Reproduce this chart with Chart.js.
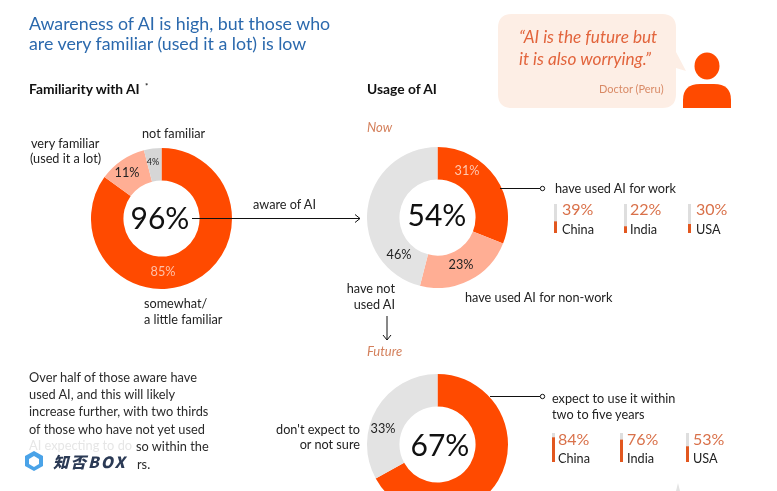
<!DOCTYPE html>
<html>
<head>
<meta charset="utf-8">
<script src="https://cdn.jsdelivr.net/npm/chart.js@4/dist/chart.umd.min.js"></script>
<style>
html, body { margin: 0; padding: 0; background: #fff; }
#page { position: relative; width: 777px; height: 491px; overflow: hidden; font-family: Lato, "Open Sans", sans-serif; color: #222; }
.t { position: absolute; white-space: nowrap; transform: translateY(-50%); font-size: 12.7px; line-height: 1; }
.r { transform: translate(-100%, -50%); }
.c { transform: translate(-50%, -50%); }
.head { font-weight: 700; font-size: 13.8px; color: #111; }
.title { font-size: 17.8px; color: #2b69ad; }
.quote { font-size: 17.2px; font-style: italic; color: #e2643c; }
.when { font-style: italic; font-size: 13px; color: #d4805c; }
.big { font-size: 30px; color: #111; }
.pct { font-size: 16px; color: #d9714a; }
.body { font-size: 12.8px; color: #2a2a2a; }
canvas { position: absolute; }
svg { position: absolute; left: 0; top: 0; }
</style>
</head>
<body>
<div id="page">
  <svg width="777" height="491">
    <path d="M512 14 H662 Q676 14 676 28 V52 L686 71 L676 68 V94 Q676 108 662 108 H512 Q498 108 498 94 V28 Q498 14 512 14 Z" fill="#fdeee5"/>
    <ellipse cx="707" cy="66" rx="12.5" ry="13.5" fill="#ff4a00"/>
    <path d="M683 108 V100 Q683 84 700 84 H714 Q731 84 731 100 V108 Z" fill="#ff4a00"/>
    <path d="M676 491 L678 483 L680 491 Z" fill="#e3e3e3"/>
  </svg>
  <canvas id="familiarityChart" style="left:91px;top:148px"></canvas>
  <canvas id="nowChart" style="left:367px;top:147px"></canvas>
  <canvas id="futureChart" style="left:367px;top:374px"></canvas>
  <svg width="777" height="491" fill="none" stroke="#111" stroke-width="1">
    <path d="M192 218.5 H360 M355 214.5 L360 218.5 L355 222.5"/>
    <path d="M500 188.5 H540"/><circle cx="542.5" cy="188.5" r="2.2"/>
    <path d="M490 396.5 H540"/><circle cx="542.5" cy="396.5" r="2.2"/>
    <path d="M387 316 V340 M383 335 L387 340 L391 335"/>
  </svg>
  <div id="labels"></div>
</div>
<script>
const familiarityLabels = ['somewhat/a little familiar', 'very familiar', 'not familiar'];
const familiarityValues = [85, 11, 4];
const nowLabels = ['have used AI for work', 'have used AI for non-work', 'have not used AI'];
const nowValues = [31, 23, 46];
const futureLabels = ['expect to use it within two to five years', "don't expect to or not sure"];
const futureValues = [67, 33];
const countries = ['China', 'India', 'USA'];
const workByCountry = [39, 22, 30];
const futureByCountry = [84, 76, 53];

const ORANGE = '#ff4a00';
const SALMON = '#ffae94';
const GREY = '#e3e3e3';

function makeDonut(id, labels, values, colors) {
    const el = document.getElementById(id);
    el.width = 141;
    el.height = 141;
    return new Chart(el.getContext('2d'), {
        type: 'doughnut',
        data: { labels: labels, datasets: [{ data: values, backgroundColor: colors, borderWidth: 0 }] },
        options: {
            responsive: false,
            animation: false,
            cutout: '54%',
            layout: { padding: 0 },
            plugins: { legend: { display: false }, tooltip: { enabled: false } }
        }
    });
}

function makeMiniBar(name, value, x, y) {
    const el = document.createElement('canvas');
    el.width = 3;
    el.height = 29;
    el.style.left = x + 'px';
    el.style.top = y + 'px';
    document.getElementById('page').appendChild(el);
    return new Chart(el.getContext('2d'), {
        type: 'bar',
        data: {
            labels: [name],
            datasets: [
                { data: [value], backgroundColor: '#e2571f', barPercentage: 1, categoryPercentage: 1 },
                { data: [100 - value], backgroundColor: '#dedede', barPercentage: 1, categoryPercentage: 1 }
            ]
        },
        options: {
            responsive: false,
            animation: false,
            layout: { padding: 0 },
            scales: {
                x: { display: false, stacked: true },
                y: { display: false, stacked: true, min: 0, max: 100 }
            },
            plugins: { legend: { display: false }, tooltip: { enabled: false } }
        }
    });
}

function text(str, x, y, cls, extra) {
    const d = document.createElement('div');
    d.className = 't ' + (cls || '');
    d.textContent = str;
    d.style.left = x + 'px';
    d.style.top = (y - 0.5) + 'px';
    if (extra) d.style.cssText += extra;
    document.getElementById('labels').appendChild(d);
}

makeDonut('familiarityChart', familiarityLabels, familiarityValues, [ORANGE, SALMON, '#d6d6d6']);
makeDonut('nowChart', nowLabels, nowValues, [ORANGE, SALMON, GREY]);
makeDonut('futureChart', futureLabels, futureValues, [ORANGE, GREY]);

// headings
text('Awareness of AI is high, but those who', 29, 24, 'title');
text('are very familiar (used it a lot) is low', 29, 44, 'title');
text('Familiarity with AI', 29, 89, 'head');
text('*', 145, 86, '', 'font-size:8px;font-weight:700');
text('Usage of AI', 367, 89, 'head');
text('Now', 367, 127, 'when');
text('Future', 367, 351, 'when');

// quote
text('“AI is the future but', 519, 37, 'quote');
text('it is also worrying.”', 519, 59, 'quote');
text('Doctor (Peru)', 599, 88, '', 'font-size:11px;color:#d98a66');

// first donut
text('not familiar', 142, 133);
text('very familiar', 31, 143);
text('(used it a lot)', 30, 158);
text(familiarityValues[1] + '%', 127, 172, 'c');
text(familiarityValues[2] + '%', 153, 161, 'c', 'font-size:9px');
text(familiarityValues[0] + '%', 163, 271, 'c', 'color:#ffc0a8');
text('96%', 160, 217, 'c big');
text('aware of AI', 253, 204);
text('somewhat/', 144, 303);
text('a little familiar', 144, 319);

// now donut
text(nowValues[0] + '%', 467, 170, 'c', 'color:#ffc8b0');
text(nowValues[1] + '%', 461, 264, 'c');
text(nowValues[2] + '%', 399, 254, 'c');
text('54%', 437, 214, 'c big');
text('have used AI for work', 555, 188);
text('have used AI for non-work', 465, 297);
text('have not', 395, 288, 'r');
text('used AI', 395, 304, 'r');

// future donut
text(futureValues[1] + '%', 383, 428, 'c');
text(futureValues[0] + '%', 440, 444, 'c big');
text("don't expect to", 360, 429, 'r');
text('or not sure', 360, 444, 'r');
text('expect to use it within', 552, 398);
text('two to five years', 552, 414);

// country bars
const workBarX = [554, 624, 688];
const workPctX = [562, 630, 696];
const futureBarX = [552, 620, 686];
const futurePctX = [558, 627, 693];
countries.forEach((name, i) => {
    makeMiniBar(name, workByCountry[i], workBarX[i], 204);
    text(workByCountry[i] + '%', workPctX[i], 209, 'pct');
    text(name, workPctX[i], 229);
    makeMiniBar(name, futureByCountry[i], futureBarX[i], 433);
    text(futureByCountry[i] + '%', futurePctX[i], 439, 'pct');
    text(name, futurePctX[i], 458);
});

// paragraph, the last lines are partly covered by the watermark in the original
['Over half of those aware have', 'used AI, and this will likely', 'increase further, with two thirds',
 'of those who have not yet used'].forEach((line, i) => {
    text(line, 29, 377 + i * 17.4, 'body');
});
text('AI expecting to do', 29, 445, 'body', 'color:#e6e6e6');
text('so within the', 136, 446, 'body');
text('rs.', 137, 464, 'body');

const logo = document.createElement('div');
logo.innerHTML = '<svg width="22" height="22" style="position:absolute;left:23px;top:450px"><path d="M11 1 L20 6 V16 L11 21 L2 16 V6 Z" fill="#4aa3e8"/><path d="M11 6 L16 9 V14 L11 17 L6 14 V9 Z" fill="#fff"/></svg>';
document.getElementById('labels').appendChild(logo);
text('知否BOX', 53, 462, '', 'font-family:"Noto Sans CJK SC";font-weight:900;font-style:italic;font-size:15.5px;letter-spacing:2px;color:#2b3a55');
</script>
</body>
</html>
